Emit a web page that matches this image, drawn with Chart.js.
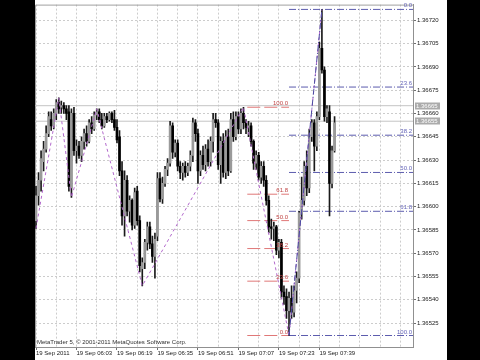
<!DOCTYPE html>
<html>
<head>
<meta charset="utf-8">
<script src="https://cdn.jsdelivr.net/npm/chart.js@4.4.0/dist/chart.umd.min.js"></script>
<style>
  html, body { margin: 0; padding: 0; background: #000; }
  #wrap { position: absolute; left: 35px; top: 0; width: 412px; height: 360px; background: #fff; }
  canvas { display: block; }
</style>
</head>
<body>
<div id="wrap"><canvas id="chart" width="412" height="360"></canvas></div>
<script>
// EURUSD M1, 19 Sep 2011, one bar per minute starting 05:47
const opens = [
  1.36591,1.36607,1.36617,1.36629,1.36637,1.36647,1.36656,1.36652,1.36660,1.36667,
  1.36664,1.36665,1.36663,1.36661,1.36612,1.36660,1.36636,1.36639,1.36633,1.36642,
  1.36647,1.36642,1.36654,1.36650,1.36659,1.36661,1.36656,1.36652,1.36658,1.36656,
  1.36660,1.36656,1.36651,1.36645,1.36623,1.36594,1.36617,1.36597,1.36604,1.36588,
  1.36610,1.36591,1.36560,1.36564,1.36577,1.36587,1.36576,1.36568,1.36581,1.36618,
  1.36605,1.36615,1.36624,1.36628,1.36652,1.36635,1.36641,1.36626,1.36622,1.36626,
  1.36622,1.36626,1.36633,1.36654,1.36647,1.36623,1.36633,1.36627,1.36637,1.36629,
  1.36642,1.36656,1.36654,1.36627,1.36642,1.36622,1.36645,1.36623,1.36656,1.36645,
  1.36658,1.36650,1.36660,1.36654,1.36651,1.36652,1.36642,1.36628,1.36633,1.36619,
  1.36626,1.36617,1.36604,1.36587,1.36586,1.36587,1.36572,1.36577,1.36545,1.36542,
  1.36533,1.36541,1.36532,1.36546,1.36554,1.36596,1.36604,1.36626,1.36612,1.36645,
  1.36654,1.36639,1.36658,1.36702,1.36688,1.36658,1.36661,1.36615,1.36636
];
const highs = [
  1.36613,1.36622,1.36636,1.36642,1.36652,1.36661,1.36661,1.36663,1.36669,1.36670,
  1.36668,1.36667,1.36665,1.36665,1.36663,1.36664,1.36643,1.36642,1.36645,1.36650,
  1.36652,1.36656,1.36658,1.36661,1.36663,1.36663,1.36660,1.36660,1.36660,1.36661,
  1.36661,1.36662,1.36656,1.36649,1.36629,1.36623,1.36620,1.36607,1.36605,1.36612,
  1.36613,1.36594,1.36567,1.36579,1.36590,1.36590,1.36581,1.36583,1.36622,1.36622,
  1.36619,1.36626,1.36631,1.36655,1.36654,1.36643,1.36643,1.36629,1.36628,1.36629,
  1.36628,1.36636,1.36657,1.36656,1.36650,1.36636,1.36639,1.36640,1.36643,1.36645,
  1.36660,1.36660,1.36656,1.36645,1.36647,1.36649,1.36650,1.36660,1.36661,1.36661,
  1.36661,1.36663,1.36664,1.36656,1.36655,1.36654,1.36643,1.36636,1.36635,1.36629,
  1.36629,1.36620,1.36607,1.36592,1.36590,1.36588,1.36579,1.36579,1.36549,1.36547,
  1.36545,1.36549,1.36549,1.36558,1.36597,1.36619,1.36629,1.36636,1.36650,1.36656,
  1.36656,1.36661,1.36706,1.36727,1.36690,1.36665,1.36665,1.36639,1.36658
];
const lows = [
  1.36586,1.36601,1.36610,1.36623,1.36635,1.36645,1.36649,1.36650,1.36656,1.36660,
  1.36660,1.36660,1.36656,1.36610,1.36606,1.36633,1.36628,1.36631,1.36629,1.36637,
  1.36639,1.36641,1.36647,1.36649,1.36656,1.36654,1.36650,1.36651,1.36654,1.36655,
  1.36654,1.36649,1.36641,1.36620,1.36588,1.36581,1.36594,1.36590,1.36585,1.36586,
  1.36588,1.36558,1.36549,1.36560,1.36572,1.36573,1.36564,1.36554,1.36578,1.36603,
  1.36602,1.36613,1.36620,1.36626,1.36631,1.36632,1.36623,1.36618,1.36617,1.36619,
  1.36620,1.36623,1.36629,1.36642,1.36615,1.36620,1.36624,1.36623,1.36626,1.36626,
  1.36635,1.36651,1.36624,1.36615,1.36619,1.36618,1.36620,1.36622,1.36642,1.36643,
  1.36647,1.36647,1.36650,1.36647,1.36645,1.36639,1.36624,1.36624,1.36617,1.36615,
  1.36613,1.36601,1.36583,1.36579,1.36578,1.36569,1.36567,1.36541,1.36537,1.36528,
  1.36517,1.36528,1.36529,1.36538,1.36551,1.36592,1.36601,1.36607,1.36609,1.36642,
  1.36623,1.36636,1.36656,1.36686,1.36655,1.36654,1.36594,1.36612,1.36635
];
const closes = [
  1.36607,1.36617,1.36631,1.36637,1.36647,1.36658,1.36652,1.36660,1.36667,1.36663,
  1.36665,1.36663,1.36660,1.36613,1.36660,1.36636,1.36639,1.36633,1.36642,1.36647,
  1.36642,1.36654,1.36650,1.36659,1.36661,1.36656,1.36652,1.36658,1.36656,1.36660,
  1.36656,1.36651,1.36643,1.36623,1.36594,1.36617,1.36597,1.36604,1.36588,1.36609,
  1.36591,1.36562,1.36564,1.36577,1.36587,1.36576,1.36568,1.36579,1.36618,1.36605,
  1.36615,1.36624,1.36628,1.36652,1.36635,1.36641,1.36626,1.36622,1.36626,1.36622,
  1.36626,1.36633,1.36654,1.36647,1.36623,1.36633,1.36627,1.36637,1.36629,1.36642,
  1.36656,1.36654,1.36627,1.36642,1.36622,1.36645,1.36623,1.36656,1.36645,1.36658,
  1.36650,1.36660,1.36654,1.36651,1.36652,1.36642,1.36628,1.36633,1.36619,1.36626,
  1.36617,1.36604,1.36587,1.36586,1.36587,1.36572,1.36577,1.36545,1.36542,1.36533,
  1.36541,1.36532,1.36546,1.36554,1.36596,1.36604,1.36626,1.36612,1.36645,1.36654,
  1.36639,1.36658,1.36702,1.36688,1.36658,1.36663,1.36615,1.36636,1.36654
];

// zigzag swing points (bar index, price)
const zzBars = [0, 9, 14, 24, 42, 82, 100, 113];
const zzPrices = [1.36586, 1.36670, 1.36606, 1.36663, 1.36549, 1.36664, 1.36517, 1.36727];

// fibonacci retracements
const redFibLevels = ['100.0', '61.8', '50.0', '38.2', '23.6', '0.0'];
const redFibPrices = [1.36664, 1.36608, 1.36591, 1.36573, 1.36552, 1.36517];
const redFibFrom = 83.5, redFibTo = 100;
const blueFibLevels = ['0.0', '23.6', '38.2', '50.0', '61.8', '100.0'];
const blueFibPrices = [1.36727, 1.36677, 1.36646, 1.36622, 1.36597, 1.36517];
const blueFibFrom = 100, blueFibTo = 149;

// bid / ask
const bidPrice = 1.36655;
const askPrice = 1.36665;

// axes
const yTicks = [1.36525, 1.36540, 1.36555, 1.36570, 1.36585, 1.36600, 1.36615,
  1.36630, 1.36645, 1.36660, 1.36675, 1.36690, 1.36705, 1.36720];
const xGrid = [0, 8, 16, 24, 32, 40, 48, 56, 64, 72, 80, 88, 96, 104, 112, 120, 128, 136, 144];
const timeTicks = [0, 16, 32, 48, 64, 80, 96, 112];
const timeLabels = ['19 Sep 2011', '19 Sep 06:03', '19 Sep 06:19', '19 Sep 06:35',
  '19 Sep 06:51', '19 Sep 07:07', '19 Sep 07:23', '19 Sep 07:39'];

const FONT = '"Liberation Sans", Arial, sans-serif';
Chart.defaults.font.family = FONT;
Chart.defaults.font.size = 6;

function segment(x1, y1, x2, y2, color, dash, order) {
  return {
    type: 'line',
    data: [{ x: x1, y: y1 }, { x: x2, y: y2 }],
    borderColor: color, borderWidth: 1, borderDash: dash,
    pointRadius: 0, fill: false, tension: 0, order
  };
}

const datasets = [];
datasets.push(segment(-0.4, askPrice, 149, askPrice, '#c4c4c4', [], 9));
datasets.push(segment(-0.4, bidPrice, 149, bidPrice, '#c4c4c4', [], 9));
redFibPrices.forEach(p => datasets.push(segment(redFibFrom, p, redFibTo, p, '#e07878', [13, 4], 8)));
blueFibPrices.forEach(p => datasets.push(segment(blueFibFrom, p, blueFibTo, p, '#5c5cae', [7, 2, 1, 2], 8)));

datasets.push({
  type: 'bar', label: 'wick',
  data: lows.map((l, i) => ({ x: i, y: [l, highs[i]] })),
  backgroundColor: '#1a1a1a', barThickness: 1, grouped: false, order: 5
});
datasets.push({
  type: 'bar', label: 'body',
  data: opens.map((o, i) => ({ x: i, y: [o, closes[i]] })),
  backgroundColor: opens.map((o, i) => closes[i] >= o ? '#9a9a9a' : '#000000'),
  barThickness: 2, grouped: false, order: 4
});

datasets.push({
  type: 'line',
  data: zzBars.map((b, k) => ({ x: b, y: zzPrices[k] })),
  borderColor: '#b268cc', borderWidth: 1, borderDash: [3, 3],
  pointRadius: 0, fill: false, tension: 0, order: 1
});
datasets.push(segment(zzBars[6], zzPrices[6], zzBars[7], zzPrices[7], '#4a4aa0', [6, 2, 1, 2], 0));

const overlay = {
  id: 'overlay',
  beforeDatasetsDraw(chart) {
    const { ctx, chartArea: a } = chart;
    ctx.save();
    ctx.strokeStyle = '#a0a0a0';
    ctx.lineWidth = 1;
    ctx.beginPath();
    ctx.moveTo(a.left + 0.5, a.bottom);
    ctx.lineTo(a.left + 0.5, a.top + 0.5);
    ctx.lineTo(a.right, a.top + 0.5);
    ctx.stroke();
    ctx.restore();
  },
  afterDatasetsDraw(chart) {
    const { ctx, chartArea: a, scales: { x, y } } = chart;
    ctx.save();
    ctx.font = `6px ${FONT}`;
    ctx.textAlign = 'right';
    ctx.textBaseline = 'alphabetic';
    ctx.fillStyle = '#c04545';
    redFibLevels.forEach((t, k) => ctx.fillText(t, x.getPixelForValue(redFibTo) - 1, y.getPixelForValue(redFibPrices[k]) - 2));
    ctx.fillStyle = '#6464b8';
    blueFibLevels.forEach((t, k) => ctx.fillText(t, a.right - 1, y.getPixelForValue(blueFibPrices[k]) - 2));
    ctx.textAlign = 'left';
    ctx.fillStyle = '#303030';
    ctx.fillText('MetaTrader 5, © 2001-2011 MetaQuotes Software Corp.', a.left + 2, a.bottom - 3);
    ctx.restore();
  },
  afterDraw(chart) {
    const { ctx, chartArea: a, scales: { y } } = chart;
    ctx.save();
    ctx.font = `6px ${FONT}`;
    ctx.textAlign = 'left';
    ctx.textBaseline = 'middle';
    [askPrice, bidPrice].forEach(p => {
      const py = Math.round(y.getPixelForValue(p));
      ctx.fillStyle = '#ababab';
      ctx.fillRect(a.right + 2, py - 3.5, 25, 7);
      ctx.fillStyle = '#ffffff';
      ctx.fillText(p.toFixed(5), a.right + 3, py + 0.5);
    });
    ctx.restore();
  }
};

new Chart(document.getElementById('chart'), {
  type: 'bar',
  data: { datasets },
  options: {
    responsive: false,
    animation: false,
    devicePixelRatio: 1,
    layout: { padding: { top: 3, left: 0, right: 0, bottom: 0 } },
    plugins: { legend: { display: false }, tooltip: { enabled: false } },
    scales: {
      x: {
        type: 'linear', min: -0.4, max: 149, offset: false,
        afterBuildTicks: s => { s.ticks = xGrid.map(v => ({ value: v })); },
        afterFit: s => { s.height = 13; },
        ticks: {
          autoSkip: false, maxRotation: 0, minRotation: 0, align: 'start', padding: 0,
          color: '#202020',
          callback: v => { const k = timeTicks.indexOf(v); return k >= 0 ? timeLabels[k] : ''; }
        },
        grid: {
          offset: false, color: '#cccccc', tickLength: 3,
          tickColor: c => (c.tick && timeTicks.includes(c.tick.value)) ? '#707070' : 'rgba(0,0,0,0)'
        },
        border: { color: '#909090', dash: [2, 2] }
      },
      y: {
        type: 'linear', position: 'right', min: 1.365096, max: 1.367301, beginAtZero: false,
        afterBuildTicks: s => { s.ticks = yTicks.map(v => ({ value: v })); },
        afterFit: s => { s.width = 34; },
        ticks: { color: '#202020', padding: 1, callback: v => v.toFixed(5) },
        grid: { color: '#cccccc', tickLength: 3, tickColor: '#707070' },
        border: { color: '#909090', dash: [2, 2] }
      }
    }
  },
  plugins: [overlay]
});
</script>
</body>
</html>
